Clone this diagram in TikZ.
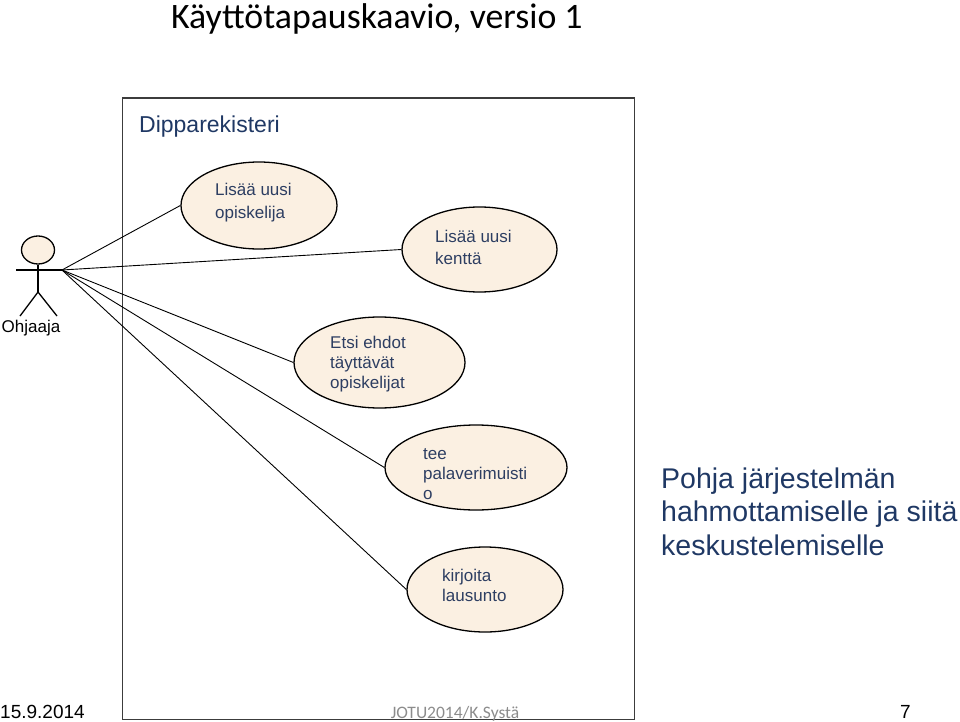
\documentclass[tikz,border=0pt]{standalone}
\usepackage{fontspec}
\setmainfont{Liberation Sans}
\newfontfamily\calibri{Carlito}
\usetikzlibrary{shapes.geometric}
\definecolor{ucfill}{RGB}{251,240,226}
\definecolor{uctext}{RGB}{45,62,98}
\definecolor{sysblue}{RGB}{31,56,100}
\definecolor{boxline}{RGB}{60,60,60}
\definecolor{footgray}{RGB}{140,140,140}
\tikzset{
  usecase/.style={ellipse, draw=black, line width=1.3pt, fill=ucfill, inner sep=0pt},
  uctxt/.style={anchor=base west, inner sep=0pt, align=left, text=uctext,
    font=\fontsize{17}{#1}\selectfont},
  uctxt/.default=21,
  assoc/.style={draw=black, line width=0.9pt},
  actorline/.style={draw=black, line width=1.3pt},
}
\begin{document}
\begin{tikzpicture}[x=1pt,y=-1pt]
\useasboundingbox (0,0) rectangle (960,722);
% title
\node[anchor=base west, inner sep=0pt, font=\calibri\fontsize{35.8}{40}\selectfont] (title) at (171,29) {Käyttötapauskaavio, versio 1};
% system boundary
\node[draw=boxline, line width=1.3pt, minimum width=512pt, minimum height=621pt, inner sep=0pt, anchor=north west] (sys) at (121.5,97.5) {};
\node[anchor=base west, inner sep=0pt, text=sysblue, font=\fontsize{23}{27}\selectfont] (sysname) at (139,133) {Dipparekisteri};
% use cases (text node anchored at the baseline of its last line)
\node[usecase, minimum width=156pt, minimum height=87pt] (uc1) at (259,205.5) {};
\node[uctxt=22] (t1) at (215,218) {Lisää uusi\\opiskelija};
\node[usecase, minimum width=155pt, minimum height=85pt] (uc2) at (479.5,249.5) {};
\node[uctxt=21.5] (t2) at (435,264) {Lisää uusi\\kenttä};
\node[usecase, minimum width=171pt, minimum height=91pt] (uc3) at (379.5,362.5) {};
\node[uctxt=20] (t3) at (330,388) {Etsi ehdot\\täyttävät\\opiskelijat};
\node[usecase, minimum width=182pt, minimum height=85pt] (uc4) at (476,467.5) {};
\node[uctxt=20] (t4) at (423,499) {tee\\palaverimuisti\\o};
\node[usecase, minimum width=156pt, minimum height=85pt] (uc5) at (485,589.5) {};
\node[uctxt=20] (t5) at (442,601) {kirjoita\\lausunto};
% actor
\node[ellipse, draw=black, line width=1.3pt, fill=ucfill, minimum width=33pt, minimum height=28pt, inner sep=0pt] (head) at (38,250) {};
\coordinate (hip) at (38,292);
\coordinate (armL) at (16,270);
\coordinate (armR) at (62,270);
\coordinate (footL) at (20,316);
\coordinate (footR) at (57,316);
\draw[actorline] (head.south) -- (hip);
\draw[actorline] (armL) -- (armR);
\draw[actorline] (footL) -- (hip) -- (footR);
\node[anchor=base, inner sep=0pt, font=\fontsize{17}{20}\selectfont] (actor) at (31,332) {Ohjaaja};
% associations
\draw[assoc] (armR) -- (uc1.west);
\draw[assoc] (armR) -- (uc2.west);
\draw[assoc] (armR) -- (uc3.west);
\draw[assoc] (armR) -- (uc4.west);
\draw[assoc] (armR) -- (uc5.west);
% comment
\node[anchor=base west, inner sep=0pt, align=left, text=sysblue, font=\fontsize{28.5}{33.5}\selectfont] (note) at (661,555) {Pohja järjestelmän\\hahmottamiselle ja siitä\\keskustelemiselle};
% footer
\node[anchor=base west, inner sep=0pt, font=\fontsize{19}{22}\selectfont] (date) at (0,718) {15.9.2014};
\node[anchor=base, inner sep=0pt, text=footgray, font=\calibri\fontsize{17.5}{20}\selectfont] (author) at (455,718) {JOTU2014/K.Systä};
\node[anchor=base west, inner sep=0pt, font=\fontsize{19}{22}\selectfont] (page) at (900,718) {7};
\end{tikzpicture}
\end{document}
